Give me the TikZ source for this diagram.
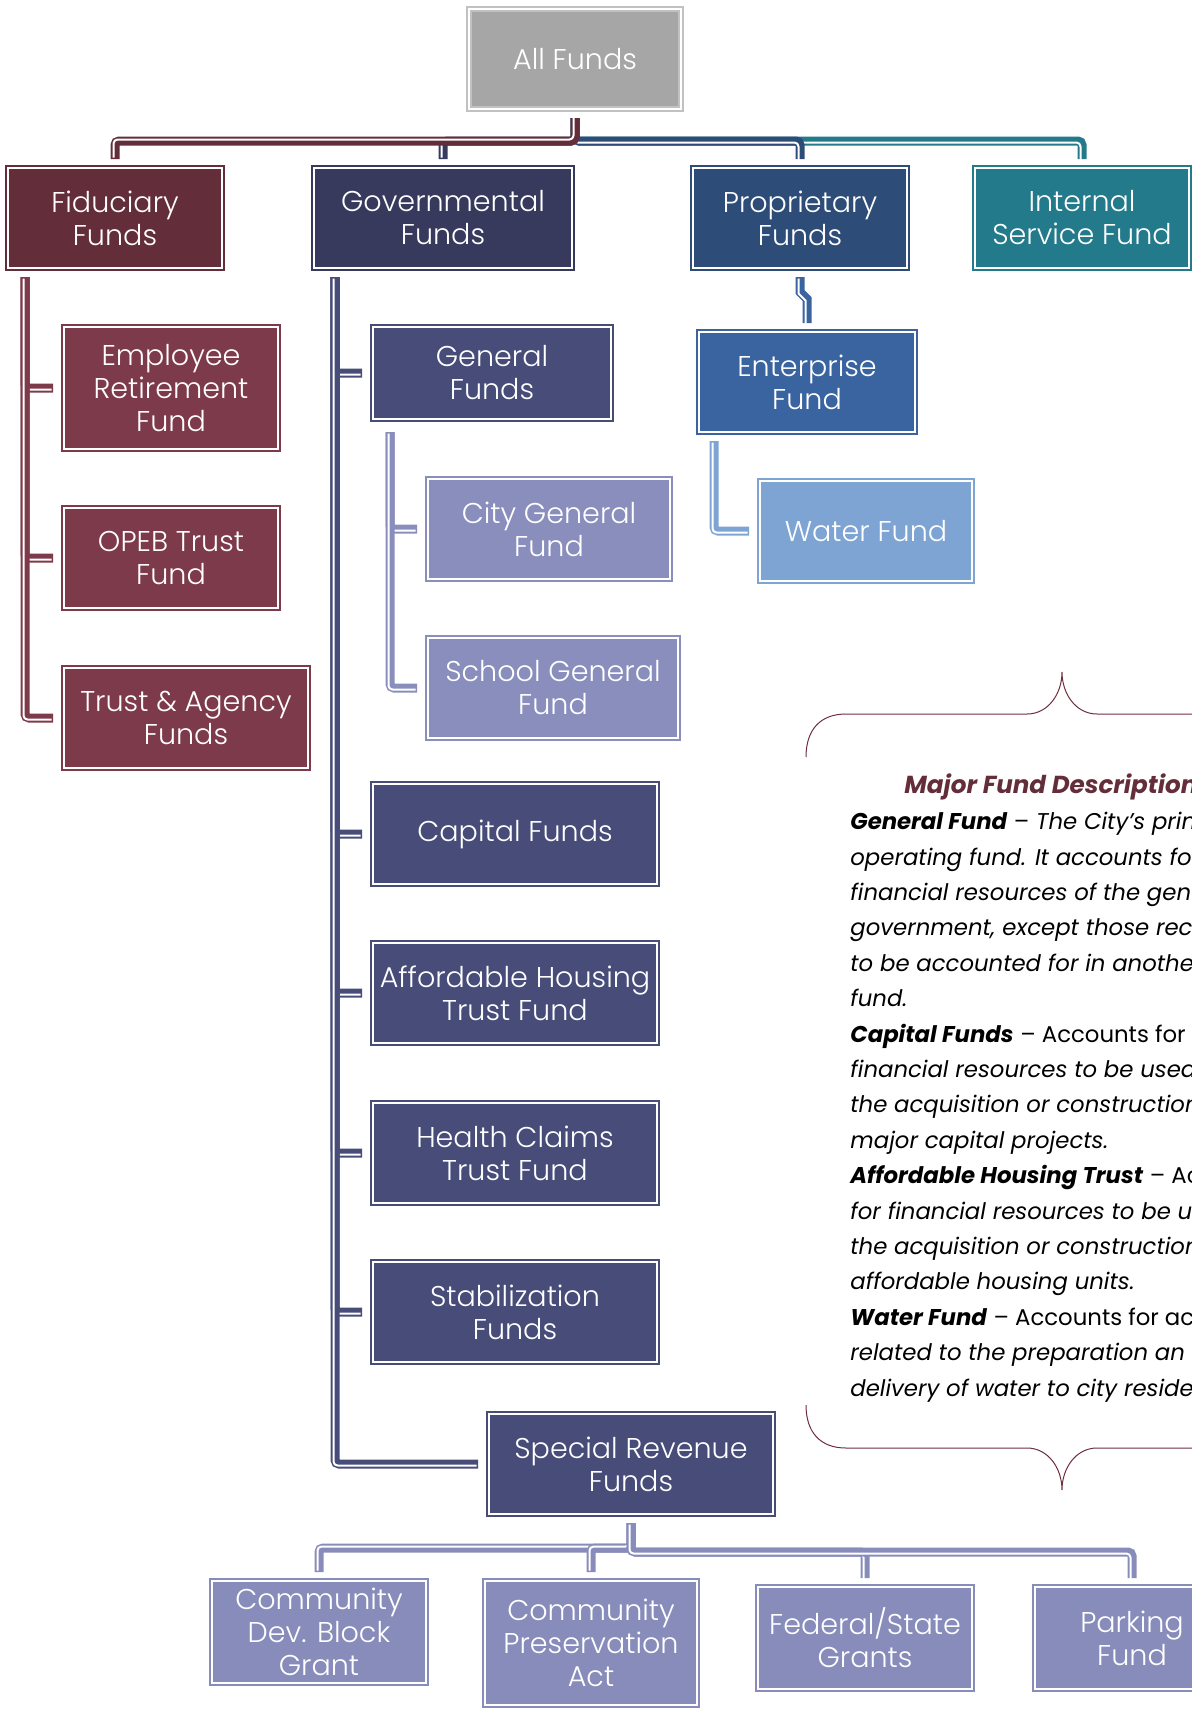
\documentclass[tikz,border=0pt]{standalone}
\usepackage{fontspec}
\setmainfont{Poppins}
\IfFontExistsTF{Poppins Light}{\newfontfamily\boxfont{Poppins Light}}{\newfontfamily\boxfont{Poppins}}
\definecolor{allgray}{HTML}{A6A6A6}
\definecolor{fidred}{HTML}{632D39}
\definecolor{fidchild}{HTML}{7D3A4A}
\definecolor{govnavy}{HTML}{373A5D}
\definecolor{govchild}{HTML}{474C79}
\definecolor{genchild}{HTML}{8A8EBD}
\definecolor{propblue}{HTML}{2D4C77}
\definecolor{entblue}{HTML}{3A64A0}
\definecolor{waterblue}{HTML}{7EA4D4}
\definecolor{isfteal}{HTML}{237A8B}
\definecolor{revchild}{HTML}{888CBA}
\definecolor{bracered}{HTML}{6E2F3D}
\tikzset{
  fund/.style={draw=#1, fill=#1, line width=1pt, double=white, double distance=1pt,
    text=white, align=center, inner sep=0pt, font=\boxfont\fontsize{14.3}{16.5}\selectfont},
  linkul/.style={draw=#1, line width=4.5pt, rounded corners=2pt,
    postaction={draw=white, line width=1pt, transform canvas={shift={(-0.75pt,0.75pt)}}}},
  linkdl/.style={draw=#1, line width=4.5pt, rounded corners=2pt,
    postaction={draw=white, line width=1pt, transform canvas={shift={(-0.75pt,-0.75pt)}}}},
  curlyline/.style={draw=bracered, line width=0.5pt},
}
\begin{document}
\begin{tikzpicture}[x=0.5pt,y=-0.5pt]
\useasboundingbox (0,0) rectangle (1192,1710);

% first level
\node[fund=allgray, draw=allgray!70, minimum width=106pt, minimum height=50pt] (all) at (575,59) {All Funds};
\node[fund=fidred, minimum width=107pt, minimum height=50pt] (fid) at (115,218) {Fiduciary\\Funds};
\node[fund=govnavy, minimum width=129pt, minimum height=50pt] (gov) at (443,218) {Governmental\\Funds};
\node[fund=propblue, minimum width=107pt, minimum height=50pt] (prop) at (800,218) {Proprietary\\Funds};
\node[fund=isfteal, minimum width=107pt, minimum height=50pt] (isf) at (1082,218) {Internal\\Service Fund};

\draw[linkul=govnavy] ([yshift=-4pt]all.south) |- ([yshift=13pt]gov.north) -- ([yshift=4pt]gov.north);
\draw[linkdl=isfteal] ([yshift=-4pt]all.south) |- ([yshift=13pt]isf.north) -- ([yshift=4pt]isf.north);
\draw[linkdl=propblue] ([yshift=-4pt]all.south) |- ([yshift=13pt]prop.north) -- ([yshift=4pt]prop.north);
\draw[linkul=fidred] ([yshift=-4pt]all.south) |- ([yshift=13pt]fid.north) -- ([yshift=4pt]fid.north);

% fiduciary
\node[fund=fidchild, minimum width=107pt, minimum height=61pt] (emp) at (171,388) {Employee\\Retirement\\Fund};
\node[fund=fidchild, minimum width=107pt, minimum height=50pt] (opeb) at (171,558) {OPEB Trust\\Fund};
\node[fund=fidchild, minimum width=122pt, minimum height=50pt] (trust) at (186,718) {Trust \& Agency\\Funds};

\draw[linkdl=fidchild] ([xshift=9pt,yshift=-4pt]fid.south west) |- ([xshift=-5pt]emp.west);
\draw[linkdl=fidchild] ([xshift=9pt,yshift=-4pt]fid.south west) |- ([xshift=-5pt]opeb.west);
\draw[linkdl=fidchild] ([xshift=9pt,yshift=-4pt]fid.south west) |- ([xshift=-5pt]trust.west);

% governmental
\node[fund=govchild, minimum width=119pt, minimum height=46pt] (gen) at (492,373) {General\\Funds};
\node[fund=genchild, minimum width=121pt, minimum height=50pt] (city) at (549,529) {City General\\Fund};
\node[fund=genchild, minimum width=125pt, minimum height=50pt] (school) at (553,688) {School General\\Fund};
\node[fund=govchild, minimum width=142pt, minimum height=50pt] (cap) at (515,834) {Capital Funds};
\node[fund=govchild, minimum width=142pt, minimum height=50pt] (aff) at (515,993) {Affordable Housing\\Trust Fund};
\node[fund=govchild, minimum width=142pt, minimum height=50pt] (hea) at (515,1153) {Health Claims\\Trust Fund};
\node[fund=govchild, minimum width=142pt, minimum height=50pt] (sta) at (515,1312) {Stabilization\\Funds};
\node[fund=govchild, minimum width=142pt, minimum height=50pt] (spec) at (631,1464) {Special Revenue\\Funds};

\draw[linkdl=govchild] ([xshift=11pt,yshift=-4pt]gov.south west) |- ([xshift=-5pt]gen.west);
\draw[linkdl=govchild] ([xshift=11pt,yshift=-4pt]gov.south west) |- ([xshift=-5pt]cap.west);
\draw[linkdl=govchild] ([xshift=11pt,yshift=-4pt]gov.south west) |- ([xshift=-5pt]aff.west);
\draw[linkdl=govchild] ([xshift=11pt,yshift=-4pt]gov.south west) |- ([xshift=-5pt]hea.west);
\draw[linkdl=govchild] ([xshift=11pt,yshift=-4pt]gov.south west) |- ([xshift=-5pt]sta.west);
\draw[linkdl=govchild] ([xshift=11pt,yshift=-4pt]gov.south west) |- ([xshift=-5pt]spec.west);

\draw[linkdl=genchild] ([xshift=9pt,yshift=-6pt]gen.south west) |- ([xshift=-5pt]city.west);
\draw[linkdl=genchild] ([xshift=9pt,yshift=-6pt]gen.south west) |- ([xshift=-5pt]school.west);

% proprietary
\node[fund=entblue, minimum width=108pt, minimum height=50pt] (ent) at (807,382) {Enterprise\\Fund};
\node[fund=waterblue, minimum width=106pt, minimum height=50pt] (water) at (866,531) {Water Fund};

\draw[linkdl=entblue, sharp corners] ([yshift=-4pt]prop.south) -- ++(0,15) -- ++(7,7) -- ([yshift=4pt]ent.north);
\draw[linkdl=waterblue] ([xshift=8pt,yshift=-4pt]ent.south west) |- ([xshift=-5pt]water.west);

% special revenue
\node[fund=revchild, minimum width=107pt, minimum height=51pt] (cdbg) at (319,1632) {Community\\Dev. Block\\Grant};
\node[fund=revchild, minimum width=106pt, minimum height=62pt] (cpa) at (591,1643) {Community\\Preservation\\Act};
\node[fund=revchild, minimum width=107pt, minimum height=51pt] (fsg) at (865,1638) {Federal/State\\Grants};
\node[fund=revchild, minimum width=97pt, minimum height=51pt] (park) at (1132,1638) {Parking\\Fund};

\draw[linkul=revchild] ([yshift=-4pt]spec.south) |- ([yshift=16pt]cdbg.north) -- ([yshift=4pt]cdbg.north);
\draw[linkul=revchild] ([yshift=-4pt]spec.south) |- ([yshift=16pt]cpa.north) -- ([yshift=4pt]cpa.north);
\draw[linkdl=revchild] ([yshift=-4pt]spec.south) |- ([yshift=17pt]fsg.north) -- ([yshift=4pt]fsg.north);
\draw[linkdl=revchild] ([yshift=-4pt]spec.south) |- ([yshift=17pt]park.north) -- ([yshift=4pt]park.north);

% description
\draw[curlyline] (806,757) .. controls (806,730) and (820,714) .. (846,714) -- (1027,714)
  .. controls (1048,714) and (1062,694) .. (1062,672) .. controls (1062,694) and (1076,714) .. (1097,714) -- (1200,714);
\draw[curlyline] (806,1405) .. controls (806,1432) and (820,1448) .. (846,1448) -- (1027,1448)
  .. controls (1048,1448) and (1062,1468) .. (1062,1490) .. controls (1062,1468) and (1076,1448) .. (1097,1448) -- (1200,1448);

\node[anchor=base west, inner sep=0pt, text=fidred, font=\fontsize{12.3}{15}\selectfont\bfseries\itshape] (desctitle) at (904,793) {Major Fund Description};
\node[anchor=north west, inner sep=0pt, align=left, font=\fontsize{11.4}{17.7}\selectfont\itshape] (desctext) at (850,812) {%
\textbf{General Fund} {\upshape –} The City’s prim\\
operating fund. It accounts fo\\
financial resources of the gen\\
government, except those rec\\
to be accounted for in anothe\\
fund.\\
\textbf{Capital Funds} {\upshape – Accounts for}\\
financial resources to be used\\
the acquisition or construction\\
major capital projects.\\
\textbf{Affordable Housing Trust} {\upshape – Acc}\\
for financial resources to be u\\
the acquisition or construction\\
affordable housing units.\\
\textbf{Water Fund} {\upshape – Accounts for ac}\\
related to the preparation an\\
delivery of water to city reside};
\end{tikzpicture}
\end{document}
